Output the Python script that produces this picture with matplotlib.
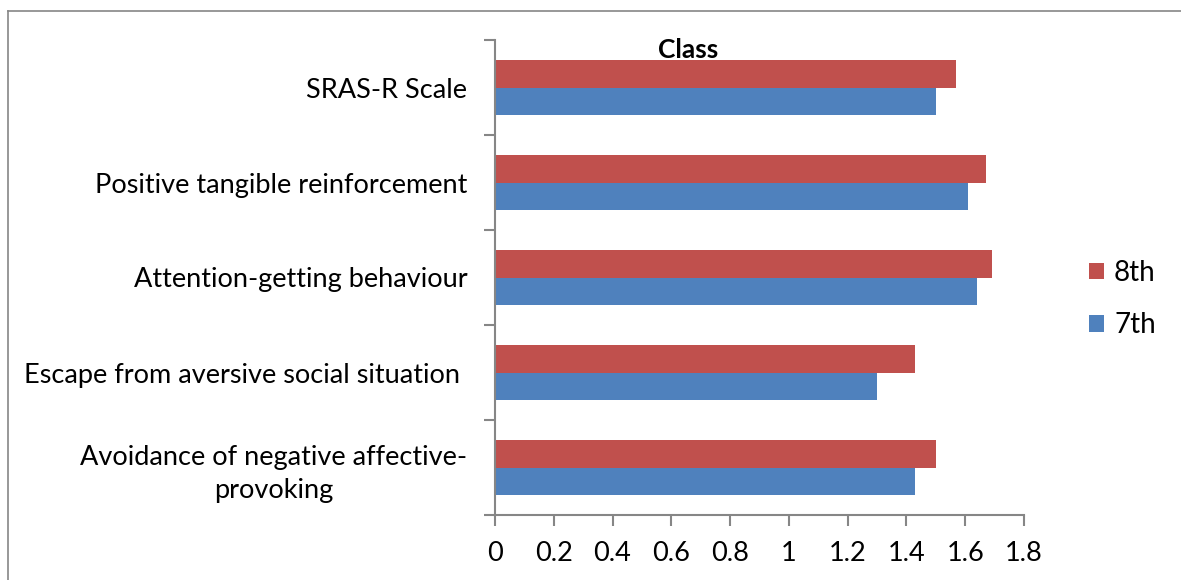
import numpy as np
import matplotlib
matplotlib.use('Agg')
import matplotlib.pyplot as plt
from matplotlib.lines import Line2D

plt.rcParams['font.family'] = ['Lato', 'DejaVu Sans']

categories = ['Avoidance of negative affective-\nprovoking',
              'Escape from aversive social situation ',
              'Attention-getting behaviour',
              'Positive tangible reinforcement',
              'SRAS-R Scale']
class_7th = [1.43, 1.30, 1.64, 1.61, 1.50]
class_8th = [1.50, 1.43, 1.69, 1.67, 1.57]
xticks = [0, 0.2, 0.4, 0.6, 0.8, 1, 1.2, 1.4, 1.6, 1.8]
xtick_labels = ['0', '0.2', '0.4', '0.6', '0.8', '1', '1.2', '1.4', '1.6', '1.8']

W, H = 1181, 580
fig = plt.figure(figsize=(W / 100, H / 100), dpi=100)
ax = fig.add_axes([495 / W, 1 - 515 / H, (1024 - 495) / W, (515 - 40) / H])

y = np.arange(len(categories))
h = 0.285
ax.barh(y - h / 2, class_7th, height=h, color='#4F81BD', label='7th')
ax.barh(y + h / 2, class_8th, height=h, color='#C0504D', label='8th')

ax.set_xlim(0, 1.8)
ax.set_ylim(-0.5, len(categories) - 0.5)
ax.set_xticks(xticks)
ax.set_xticklabels(xtick_labels, fontsize=19.5)

# category boundaries carry the ticks, labels sit in the middle
ax.set_yticks(np.arange(-0.5, len(categories), 1.0))
ax.set_yticklabels([])
ax.set_yticks(y, minor=True)
ax.set_yticklabels(categories, minor=True, fontsize=19.5, ha='right', multialignment='center',
                   linespacing=1.4)
ax.tick_params(axis='y', which='minor', length=0, pad=20)
ax.tick_params(axis='y', which='major', length=8, width=1.5, color='#868686', direction='out')
ax.tick_params(axis='x', length=8, width=1.5, color='#868686', direction='out', pad=11)

for s in ['top', 'right']:
    ax.spines[s].set_visible(False)
for s in ['left', 'bottom']:
    ax.spines[s].set_color('#868686')
    ax.spines[s].set_linewidth(1.5)

fig.text(688 / W, 1 - 50 / H, 'Class', fontsize=19, fontweight='bold', ha='center', va='center')

handles, labels = ax.get_legend_handles_labels()
fig.legend(handles[::-1], labels[::-1], loc='center left', bbox_to_anchor=(1064 / W, 1 - 299 / H),
           frameon=False, fontsize=20, handlelength=0.55, handleheight=0.55, handletextpad=0.35,
           labelspacing=0.95)

# outer chart border (left and top edges visible)
fig.add_artist(Line2D([8 / W, 8 / W], [0, 1 - 11 / H], transform=fig.transFigure, color='#868686', lw=1.2))
fig.add_artist(Line2D([8 / W, 1], [1 - 11 / H, 1 - 11 / H], transform=fig.transFigure, color='#868686', lw=1.2))

fig.savefig('out.png', dpi=100)
